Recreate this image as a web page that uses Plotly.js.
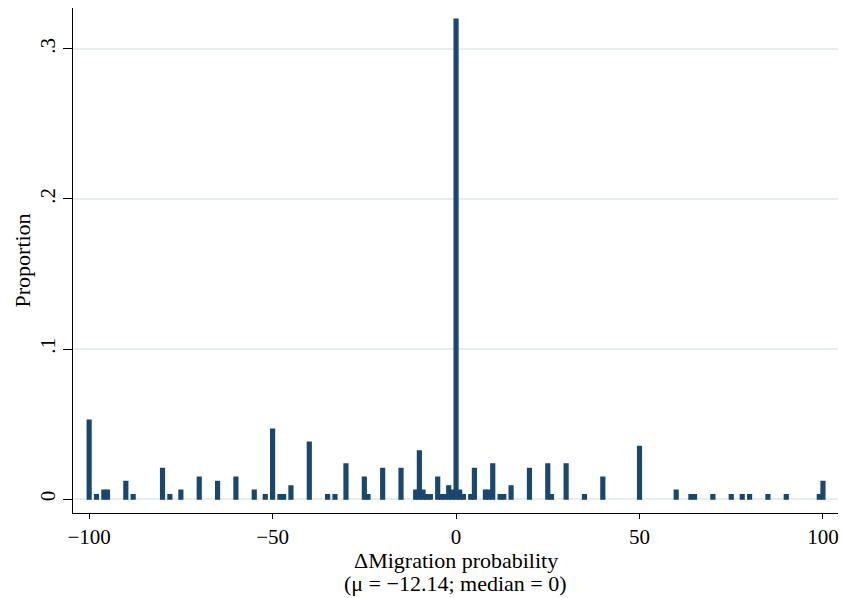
<!DOCTYPE html>
<html>
<head>
<meta charset="utf-8">
<script src="https://cdn.plot.ly/plotly-3.0.1.min.js"></script>
<style>html,body{margin:0;padding:0;background:#fff;}#chart{width:844px;height:598px;}</style>
</head>
<body>
<div id="chart"></div>
<script>
// Values of ΔMigration probability (discrete bins of width 1)
const migrationValues = [-100,-98,-96,-95,-90,-88,-80,-78,-75,-70,-65,-60,-55,-52,-50,-48,-47,-45,-40,-35,-33,-30,-25,-24,-20,-15,-11,-10,-9,-8,-7,-5,-4,-3,-2,-1,0,1,2,4,5,8,9,10,12,13,15,20,25,26,30,35,40,50,60,64,65,70,75,78,80,85,90,99,100];
// Proportion of respondents in each bin
const proportions = [0.0525,0.0029,0.0058,0.0058,0.0117,0.0029,0.0204,0.0029,0.0058,0.0146,0.0117,0.0146,0.0058,0.0029,0.0466,0.0029,0.0029,0.0087,0.0379,0.0029,0.0029,0.0233,0.0146,0.0029,0.0204,0.0204,0.0058,0.0321,0.0058,0.0029,0.0029,0.0146,0.0029,0.0029,0.0087,0.0058,0.3198,0.0058,0.0029,0.0029,0.0204,0.0058,0.0058,0.0233,0.0029,0.0029,0.0087,0.0204,0.0233,0.0029,0.0233,0.0029,0.0146,0.0350,0.0058,0.0029,0.0029,0.0029,0.0029,0.0029,0.0029,0.0029,0.0029,0.0029,0.0117];
const xTickVals = [-100,-50,0,50,100];
const xTickText = ['\u2212100','\u221250','0','50','100'];
const yTickVals = [0,0.1,0.2,0.3];
const yTickText = ['0','.1','.2','.3'];
const xTitleLine1 = '\u0394Migration probability';
const xTitleLine2 = '(\u03bc = \u221212.14; median = 0)';
const yTitle = 'Proportion';

const navy = '#1a476f';
const font = 'Liberation Serif, Times New Roman, serif';
const titleFont = {family: font, size: 22, color: '#000'};

const trace = {
  type: 'bar',
  x: migrationValues,
  y: proportions,
  width: 1,
  marker: {color: navy, line: {color: navy, width: 1.5}},
  hoverinfo: 'x+y'
};

const layout = {
  width: 844, height: 598,
  margin: {l: 73, r: 6, t: 8, b: 85},
  paper_bgcolor: '#fff', plot_bgcolor: '#fff',
  showlegend: false,
  font: {family: font, size: 21, color: '#000'},
  xaxis: {
    range: [-104.4, 104.1],
    tickvals: xTickVals, ticktext: xTickText,
    ticks: 'outside', ticklen: 5, tickwidth: 1, tickcolor: '#000',
    showline: true, linecolor: '#000', linewidth: 1,
    showgrid: false, zeroline: false,
    tickfont: {family: font, size: 21, color: '#000'}
  },
  yaxis: {
    range: [-0.0093, 0.3273],
    tickvals: yTickVals, ticktext: yTickText,
    tickangle: -90,
    ticks: 'outside', ticklen: 9, tickwidth: 1, tickcolor: '#000',
    showline: true, linecolor: '#000', linewidth: 1,
    showgrid: true, gridcolor: '#e6eef0', gridwidth: 1.5,
    zeroline: true, zerolinecolor: '#e6eef0', zerolinewidth: 1.5,
    tickfont: {family: font, size: 21, color: '#000'}
  },
  annotations: [
    {text: xTitleLine1, xref: 'paper', yref: 'paper', x: 0.5, y: 0, xanchor: 'center', yanchor: 'middle', yshift: -47, showarrow: false, font: titleFont},
    {text: xTitleLine2, xref: 'paper', yref: 'paper', x: 0.5, y: 0, xanchor: 'center', yanchor: 'middle', yshift: -70, showarrow: false, font: titleFont},
    {text: yTitle, xref: 'paper', yref: 'paper', x: 0, y: 0.5, xanchor: 'center', yanchor: 'middle', xshift: -51, textangle: -90, showarrow: false, font: titleFont}
  ]
};

Plotly.newPlot('chart', [trace], layout, {staticPlot: true, displayModeBar: false});
</script>
</body>
</html>
